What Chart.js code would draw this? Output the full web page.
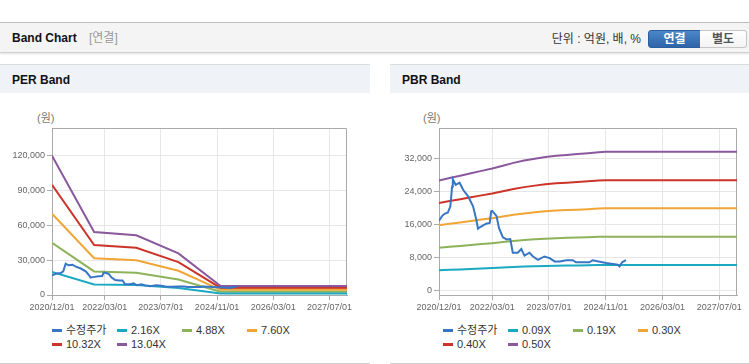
<!DOCTYPE html>
<html lang="ko">
<head>
<meta charset="utf-8">
<title>Band Chart</title>
<script src="https://cdn.jsdelivr.net/npm/chart.js@4.4.1/dist/chart.umd.min.js"></script>
<style>
  body { margin: 0; width: 749px; height: 364px; position: relative; overflow: hidden; background: #fff;
         font-family: "Liberation Sans", Arial, "Noto Sans CJK KR", sans-serif; color: #333; }
  .top { position: absolute; left: 0; top: 22px; width: 749px; height: 29px; background: #f4f4f4;
         border-top: 1px solid #bdbdbd; border-bottom: 1px solid #d0d0d0; box-shadow: 0 1px 2px rgba(0,0,0,.12); }
  .top .title { position: absolute; left: 12px; top: 8px; font-size: 12px; line-height: 14px; font-weight: bold; color: #111; }
  .top .sub { position: absolute; left: 89px; top: 8px; font-size: 12px; line-height: 14px; color: #999; }
  .top .unit { position: absolute; right: 108px; top: 9px; font-size: 12px; line-height: 14px; color: #333; }
  .btn { position: absolute; top: 7px; height: 16px; line-height: 16px; font-size: 12px; font-weight: bold; text-align: center; }
  .btn.on { left: 648px; width: 51px; color: #fff; background: linear-gradient(#4b87c9, #2c65a8);
            border: 1px solid #2a5e9f; border-radius: 3px 0 0 3px; }
  .btn.off { left: 700px; width: 46px; color: #555; background: linear-gradient(#fff, #f3f3f3);
             border: 1px solid #c6c6c6; border-left: none; border-radius: 0 3px 3px 0; }
  .phead { position: absolute; top: 64px; height: 28px; background: #eff2f7; border-top: 1px solid #dcdcdc; }
  .phead span { position: absolute; left: 12px; top: 8px; font-size: 12px; line-height: 14px; font-weight: bold; color: #111; }
  .pfoot { position: absolute; top: 363px; height: 1px; background: #cfcfcf; }
  .unitlabel { position: absolute; top: 111px; font-size: 11px; line-height: 14px; color: #777; }
  canvas { position: absolute; top: 100px; }
  .legend { position: absolute; top: 323px; }
  .legend .item { position: absolute; height: 14px; white-space: nowrap; }
  .legend .sym { position: absolute; left: 0; top: 6px; width: 10px; height: 3px; }
  .legend .txt { position: absolute; left: 14px; top: 0; font-size: 11px; line-height: 14px; color: #333; }
</style>
</head>
<body>
<div class="top">
  <span class="title">Band Chart</span><span class="sub">[연결]</span>
  <span class="unit">단위 : 억원, 배, %</span>
  <div class="btn on">연결</div><div class="btn off">별도</div>
</div>

<div class="phead" style="left:0;width:370px"><span>PER Band</span></div>
<div class="phead" style="left:390px;width:359px"><span>PBR Band</span></div>
<div class="unitlabel" style="left:37px">(원)</div>
<div class="unitlabel" style="left:423px">(원)</div>

<canvas id="perChart" width="370" height="215" style="left:0"></canvas>
<canvas id="pbrChart" width="359" height="215" style="left:390px"></canvas>

<div class="legend" id="perLegend" style="left:52px"></div>
<div class="legend" id="pbrLegend" style="left:443px"></div>

<div class="pfoot" style="left:0;width:370px"></div>
<div class="pfoot" style="left:390px;width:359px"></div>

<script>
// x axis: months counted from 2020/12
const xTickMonths = [0, 15, 31, 47, 63, 79];
const xTickLabels = ['2020/12/01', '2022/03/01', '2023/07/01', '2024/11/01', '2026/03/01', '2027/07/01'];
const xMax = 84;

const priceLabel = '수정주가';
const priceMonths = [0, 0.9, 1.6, 2.5, 3.2, 3.7, 3.9, 4.7, 5.8, 6.8, 8.2, 9.6, 10.5, 11, 11.6, 13.3, 14.3, 14.7, 15,
  16.2, 16.9, 18, 19.1, 20.1, 20.8, 22.2, 23.2, 24.1, 25.5, 26.5, 27.9, 29.7, 31.2, 32.6, 34, 35.9, 37.7, 38.6,
  42.4, 43.3, 47.1, 50.4, 50.9, 51.6, 52.7];
const priceValues = [16900, 18100, 18600, 18900, 20400, 25200, 26900, 25600, 26100, 24400, 22800, 20400, 17200, 15000, 15400,
  16200, 16400, 19200, 19300, 18100, 15200, 12900, 12400, 12500, 9200, 9200, 10100, 8500, 9200, 8300, 7500, 8300,
  7900, 7100, 7100, 7400, 7400, 6900, 6900, 7400, 6700, 6300, 5900, 6900, 7400];

// PER band
const perLabels = ['2.16X', '4.88X', '7.60X', '10.32X', '13.04X'];
const perMonths = [0, 12, 24, 36, 48, 84];
const perBand1 = [19876, 8994, 8515, 5940, 1274, 1274];
const perBand2 = [44906, 20320, 19237, 13420, 2879, 2879];
const perBand3 = [69935, 31646, 29959, 20900, 4484, 4484];
const perBand4 = [94965, 42972, 40681, 28380, 6089, 6089];
const perBand5 = [119994, 54299, 51404, 35860, 7694, 7694];
const perYTicks = [0, 30000, 60000, 90000, 120000];

// PBR band
const pbrLabels = ['0.09X', '0.19X', '0.30X', '0.40X', '0.50X'];
const pbrMonths = [0, 3, 6, 9, 12, 15, 18, 21, 24, 27, 30, 33, 36, 39, 42, 45, 47, 84];
const pbrBand1 = [4957, 5064, 5171, 5278, 5385, 5492, 5619, 5746, 5850, 5933, 6008, 6064, 6101, 6138, 6175, 6222, 6240, 6240];
const pbrBand2 = [10394, 10618, 10842, 11066, 11291, 11515, 11782, 12047, 12266, 12441, 12597, 12714, 12792, 12870, 12948, 13046, 13085, 13085];
const pbrBand3 = [15830, 16172, 16513, 16855, 17196, 17538, 17945, 18349, 18681, 18949, 19186, 19364, 19483, 19602, 19721, 19869, 19929, 19929];
const pbrBand4 = [21213, 21671, 22129, 22587, 23044, 23502, 24047, 24588, 25034, 25392, 25711, 25950, 26109, 26268, 26427, 26626, 26706, 26706];
const pbrBand5 = [26650, 27225, 27800, 28375, 28950, 29525, 30210, 30890, 31450, 31900, 32300, 32600, 32800, 33000, 33200, 33450, 33550, 33550];
const pbrYTicks = [0, 8000, 16000, 24000, 32000];

const colors = ['#3776c4', '#1ba9c2', '#8db35a', '#f0a536', '#cc3329', '#8a589c'];

Chart.defaults.font.family = '"Liberation Sans", Arial, sans-serif';

const toPoints = (xs, ys) => ys.map((y, i) => ({ x: xs[i], y }));

const lineDataset = (label, points, color) => ({
  label,
  data: points,
  borderColor: color,
  backgroundColor: color,
  borderWidth: 2,
  pointRadius: 0,
  tension: 0,
  fill: false,
});

// grey box round the plot area (top and right sides)
const plotBox = {
  id: 'plotBox',
  beforeDatasetsDraw(chart) {
    const { ctx, chartArea: a } = chart;
    ctx.save();
    ctx.strokeStyle = '#aaa';
    ctx.lineWidth = 1;
    ctx.beginPath();
    ctx.moveTo(Math.round(a.left) + 0.5, Math.round(a.top) + 0.5);
    ctx.lineTo(Math.round(a.right) - 0.5, Math.round(a.top) + 0.5);
    ctx.lineTo(Math.round(a.right) - 0.5, Math.round(a.bottom));
    ctx.stroke();
    ctx.restore();
  },
};

const makeOptions = (axisWidth, padRight, yMin, yMax, yTicks) => ({
  responsive: false,
  devicePixelRatio: 1,
  animation: false,
  layout: { padding: { top: 28, right: padRight, left: 0, bottom: 0 } },
  plugins: { legend: { display: false }, tooltip: { enabled: false } },
  scales: {
    x: {
      type: 'linear',
      min: 0,
      max: xMax,
      afterBuildTicks: (s) => { s.ticks = xTickMonths.map((v) => ({ value: v })); },
      afterFit: (s) => { s.height = 20; },
      ticks: {
        callback: (v, i) => xTickLabels[i],
        color: '#666',
        font: { size: 9 },
        padding: 2,
        maxRotation: 0,
        autoSkip: false,
      },
      grid: { color: '#e6e6e6', tickColor: '#aaa', tickLength: 5 },
      border: { color: '#aaa' },
    },
    y: {
      min: yMin,
      max: yMax,
      afterBuildTicks: (s) => { s.ticks = yTicks.map((v) => ({ value: v })); },
      afterFit: (s) => { s.width = axisWidth; },
      ticks: {
        callback: (v) => v.toLocaleString('en-US'),
        color: '#666',
        font: { size: 9 },
        padding: 2,
      },
      grid: { color: '#e6e6e6', tickColor: '#aaa', tickLength: 5 },
      border: { color: '#aaa' },
    },
  },
});

const buildLegend = (el, chart) => {
  chart.data.datasets.forEach((ds, i) => {
    const item = document.createElement('div');
    item.className = 'item';
    item.style.left = (i % 4) * 65 + 'px';
    item.style.top = Math.floor(i / 4) * 13.5 + 'px';
    const sym = document.createElement('span');
    sym.className = 'sym';
    sym.style.background = ds.borderColor;
    const txt = document.createElement('span');
    txt.className = 'txt';
    txt.textContent = ds.label;
    item.appendChild(sym);
    item.appendChild(txt);
    el.appendChild(item);
  });
};

const perBands = [perBand1, perBand2, perBand3, perBand4, perBand5];
const pbrBands = [pbrBand1, pbrBand2, pbrBand3, pbrBand4, pbrBand5];

const perChart = new Chart(document.getElementById('perChart'), {
  type: 'line',
  data: {
    datasets: [
      lineDataset(priceLabel, toPoints(priceMonths, priceValues), colors[0]),
      ...perBands.map((band, i) => lineDataset(perLabels[i], toPoints(perMonths, band), colors[i + 1])),
    ],
  },
  options: makeOptions(52, 23, 0, 143800, perYTicks),
  plugins: [plotBox],
});

const pbrChart = new Chart(document.getElementById('pbrChart'), {
  type: 'line',
  data: {
    datasets: [
      lineDataset(priceLabel, toPoints(priceMonths, priceValues), colors[0]),
      ...pbrBands.map((band, i) => lineDataset(pbrLabels[i], toPoints(pbrMonths, band), colors[i + 1])),
    ],
  },
  options: makeOptions(49, 12, -1000, 39300, pbrYTicks),
  plugins: [plotBox],
});

buildLegend(document.getElementById('perLegend'), perChart);
buildLegend(document.getElementById('pbrLegend'), pbrChart);
</script>
</body>
</html>
